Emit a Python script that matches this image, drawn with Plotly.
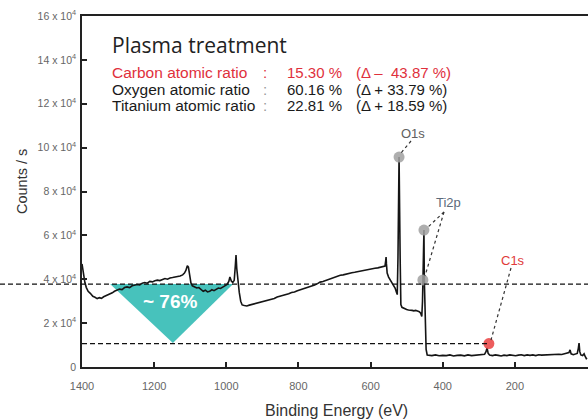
import plotly.graph_objects as go

# ---------------- data ----------------
# XPS survey spectrum (binding energy eV, counts in units of 10^4 counts/s)
spectrum = [
    (1400, 4.70), (1398, 4.45), (1395, 4.10), (1392, 3.85), (1388, 3.62), (1383, 3.45),
    (1377, 3.36), (1370, 3.22), (1364, 3.18), (1358, 3.12), (1352, 3.16), (1346, 3.13),
    (1340, 3.20), (1334, 3.24), (1328, 3.30), (1322, 3.34), (1316, 3.38), (1310, 3.45),
    (1303, 3.50), (1296, 3.55), (1289, 3.53), (1282, 3.62), (1275, 3.65), (1268, 3.62),
    (1261, 3.70), (1254, 3.72), (1247, 3.76), (1240, 3.74), (1233, 3.82), (1226, 3.85),
    (1219, 3.82), (1212, 3.90), (1205, 3.88), (1198, 3.93), (1191, 3.96), (1184, 3.94),
    (1177, 4.00), (1170, 4.03), (1163, 4.00), (1156, 4.06), (1149, 4.08), (1142, 4.10),
    (1135, 4.12), (1128, 4.15), (1121, 4.20), (1116, 4.28), (1112, 4.40), (1108, 4.62),
    (1105, 4.55), (1101, 4.10), (1098, 3.83), (1094, 3.70), (1088, 3.66), (1082, 3.60),
    (1076, 3.62), (1070, 3.52), (1064, 3.45), (1058, 3.50), (1052, 3.42), (1046, 3.45),
    (1040, 3.52), (1034, 3.48), (1028, 3.55), (1022, 3.60), (1016, 3.58), (1010, 3.66),
    (1004, 3.70), (998, 3.76), (993, 3.90), (990, 4.10), (986, 3.92), (982, 3.85),
    (978, 3.95), (975, 4.60), (973, 5.10), (971, 4.50), (968, 3.95), (964, 3.40),
    (960, 3.00), (956, 2.83), (950, 2.80), (943, 2.78), (936, 2.82), (929, 2.85),
    (922, 2.88), (915, 2.92), (907, 2.96), (899, 2.98), (891, 3.03), (883, 3.06),
    (875, 3.10), (867, 3.12), (859, 3.19), (851, 3.22), (843, 3.27), (835, 3.30),
    (827, 3.34), (819, 3.40), (811, 3.42), (803, 3.48), (795, 3.52), (787, 3.56),
    (779, 3.60), (771, 3.66), (763, 3.70), (755, 3.74), (747, 3.80), (740, 3.87),
    (732, 3.90), (724, 3.95), (716, 4.00), (708, 4.05), (700, 4.10), (692, 4.14),
    (684, 4.18), (676, 4.20), (668, 4.24), (660, 4.26), (652, 4.30), (644, 4.32),
    (636, 4.35), (628, 4.38), (620, 4.40), (612, 4.42), (604, 4.45), (596, 4.47),
    (588, 4.50), (580, 4.52), (572, 4.54), (565, 4.56), (560, 4.60), (558, 4.85),
    (557, 5.01), (556, 4.70), (554, 4.28), (550, 4.10), (546, 4.00), (541, 3.87),
    (536, 3.72), (532, 3.60), (528, 3.40), (526, 3.30), (524, 5.00), (521, 9.57),
    (518, 5.00), (516, 2.85), (513, 2.72), (510, 2.69), (505, 2.64), (500, 2.62),
    (495, 2.60), (490, 2.60), (485, 2.58), (480, 2.56), (475, 2.58), (470, 2.55),
    (465, 2.52), (461, 2.45), (458, 2.30), (456, 3.00), (455, 3.97), (453, 5.50),
    (452, 6.24), (451, 4.00), (449, 2.00), (446, 0.80), (443, 0.55), (440, 0.54),
    (430, 0.52), (420, 0.55), (410, 0.51), (400, 0.53), (390, 0.52), (380, 0.55),
    (370, 0.50), (360, 0.53), (350, 0.54), (340, 0.51), (330, 0.55), (320, 0.52),
    (310, 0.54), (300, 0.53), (290, 0.55), (284, 0.58), (280, 0.70), (277, 0.87),
    (274, 0.62), (270, 0.55), (262, 0.52), (254, 0.55), (246, 0.53), (238, 0.50),
    (230, 0.54), (222, 0.52), (214, 0.55), (206, 0.53), (198, 0.51), (190, 0.54),
    (182, 0.56), (174, 0.52), (166, 0.55), (158, 0.53), (150, 0.55), (142, 0.52),
    (134, 0.56), (126, 0.54), (118, 0.55), (110, 0.53), (102, 0.57), (94, 0.55),
    (86, 0.56), (78, 0.58), (70, 0.57), (62, 0.60), (55, 0.62), (50, 0.66),
    (47, 0.78), (44, 0.60), (38, 0.56), (32, 0.58), (27, 0.62), (24, 0.85),
    (22, 1.09), (20, 0.70), (17, 0.55), (12, 0.52), (8, 0.60), (5, 0.48),
    (2, 0.38), (0, 0.42),
]

# peak markers
grey_peaks_ev = [521, 452, 455]
grey_peaks_counts = [9.57, 6.24, 3.97]
c1s_ev = [272]
c1s_counts = [1.07]

# reference levels
upper_level = 3.78
lower_level = 1.07

# ~76% reduction triangle (eV, counts)
tri_ev = [1322, 981, 1148, 1322]
tri_counts = [3.78, 3.78, 1.09, 3.78]

y_tickvals = [0, 2, 4, 6, 8, 10, 12, 14, 16]
y_ticktext = ["0"] + [f"{v} x 10<sup>4</sup>" for v in y_tickvals[1:]]
x_tickvals = [1400, 1200, 1000, 800, 600, 400, 200]

title_text = "Plasma treatment"
ratio_labels = ["Carbon atomic ratio", "Oxygen atomic ratio", "Titanium atomic ratio"]
ratio_values = ["15.30 %", "60.16 %", "22.81 %"]
ratio_deltas = ["(Δ –  43.87 %)", "(Δ + 33.79 %)", "(Δ + 18.59 %)"]
ratio_colors = ["#e0303c", "#1a1a1a", "#1a1a1a"]

# ---------------- figure ----------------
W, H = 588, 420
L, R, T, B = 82, 0, 16, 53
PW, PH = W - L - R, H - T - B


def px(xp):
    return (xp - L) / PW


def py(yp):
    return (H - B - yp) / PH


FONT = "Arial, Liberation Sans, sans-serif"

fig = go.Figure()

fig.add_trace(go.Scatter(x=tri_ev, y=tri_counts, mode="lines", fill="toself",
                         fillcolor="#47c2bc", line=dict(width=0, color="#47c2bc"),
                         hoverinfo="skip", showlegend=False))

fig.add_trace(go.Scatter(x=[p[0] for p in spectrum], y=[p[1] for p in spectrum],
                         mode="lines", line=dict(color="#151515", width=1.6),
                         showlegend=False))

fig.add_trace(go.Scatter(x=grey_peaks_ev, y=grey_peaks_counts, mode="markers",
                         marker=dict(size=11, color="rgba(160,160,160,0.85)"),
                         showlegend=False))
fig.add_trace(go.Scatter(x=c1s_ev, y=c1s_counts, mode="markers",
                         marker=dict(size=11, color="rgba(235,75,75,0.9)"),
                         showlegend=False))

shapes = []
# dashed reference lines
shapes.append(dict(type="line", xref="paper", yref="y", x0=-L / PW, x1=1,
                   y0=upper_level, y1=upper_level,
                   line=dict(color="#111", width=1.3, dash="5px,3px")))
shapes.append(dict(type="line", xref="x", yref="y", x0=1400, x1=c1s_ev[0],
                   y0=lower_level, y1=lower_level,
                   line=dict(color="#111", width=1.3, dash="5px,3px")))
# leader lines (paper coords from pixel positions)
leaders = [((411, 141), (401, 153)),
           ((444, 212), (427, 228)),
           ((444, 212), (425, 276)),
           ((511, 268), (491, 340))]
for (a, b) in leaders:
    shapes.append(dict(type="line", xref="paper", yref="paper",
                       x0=px(a[0]), y0=py(a[1]), x1=px(b[0]), y1=py(b[1]),
                       line=dict(color="#333", width=1.2, dash="dot")))
fig.update_layout(shapes=shapes)


def note(text, xp, yp, size, color, family=FONT, xanchor="center", angle=0):
    return dict(text=text, x=px(xp), y=py(yp), xref="paper", yref="paper",
                xanchor=xanchor, yanchor="middle", showarrow=False, textangle=angle,
                font=dict(family=family, size=size, color=color))


ann = []
ann.append(note(title_text, 110, 44.5, 21, "#222", family="Open Sans, sans-serif",
                xanchor="left"))
rows_y = [72, 89, 105]
for lab, val, dlt, col, yy in zip(ratio_labels, ratio_values, ratio_deltas, ratio_colors, rows_y):
    ann.append(note(lab, 110, yy, 15.5, col, xanchor="left"))
    ann.append(note(":", 265, yy, 15, "#999" if col != "#e0303c" else col))
    ann.append(note(val, 285, yy, 15, col, xanchor="left"))
    ann.append(note(dlt, 354, yy, 15, col, xanchor="left"))

ann.append(dict(text="<b>~ 76%</b>", x=1156, y=2.98, xref="x", yref="y", showarrow=False,
                xanchor="center", yanchor="middle",
                font=dict(family=FONT, size=19, color="white")))
ann.append(note("O1s", 413, 133, 13, "#606060"))
ann.append(note("Ti2p", 448, 203, 13, "#5d6a7a"))
ann.append(note("C1s", 513, 260, 13, "#e03a3a"))
ann.append(note("Counts / s", 22, 182, 14.5, "#333", angle=-90))
ann.append(note("Binding Energy (eV)", 336, 410, 16, "#333"))
fig.update_layout(annotations=ann)

fig.update_layout(
    width=W, height=H, margin=dict(l=L, r=R, t=T, b=B, autoexpand=False),
    paper_bgcolor="white", plot_bgcolor="white",
    xaxis=dict(range=[1400, -2.8], tickvals=x_tickvals, ticks="inside", ticklen=5,
               tickwidth=1.5, tickcolor="#222", showline=True, linecolor="#222",
               linewidth=1.6, mirror=True, showgrid=False, zeroline=False,
               tickfont=dict(family=FONT, size=11, color="#666"),
               ticklabelstandoff=8),
    yaxis=dict(range=[0, 16], tickvals=y_tickvals, ticktext=y_ticktext, ticks="inside",
               ticklen=5, tickwidth=1.5, tickcolor="#222", showline=True,
               linecolor="#222", linewidth=1.6, mirror=True, showgrid=False,
               zeroline=False, tickfont=dict(family=FONT, size=10.5, color="#666"),
               ticklabelstandoff=2),
    showlegend=False,
)

fig.write_html("out.html", config={"displayModeBar": False},
               post_script="document.body.style.margin='0px';document.body.style.overflow='hidden';")
